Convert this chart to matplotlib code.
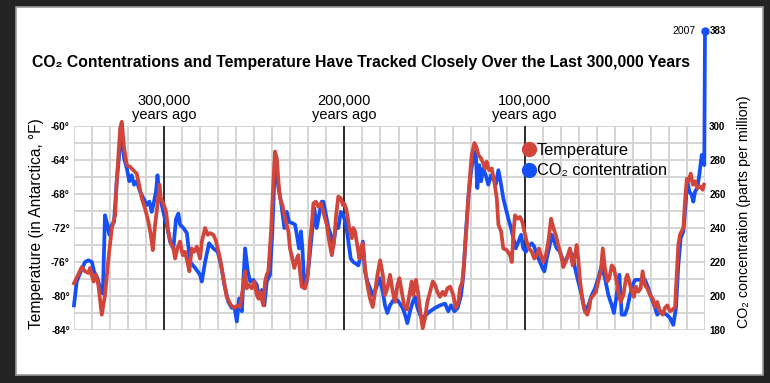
import matplotlib
matplotlib.use("Agg")
import matplotlib.pyplot as plt
import matplotlib.transforms as mtransforms
from matplotlib import font_manager
from matplotlib.lines import Line2D
from matplotlib.patches import Rectangle
from matplotlib.ticker import MultipleLocator

# thousands of years ago / degrees F (Antarctic temperature, red)
TEMP_KYR = [
    350.0, 345.7, 343.9, 342.0, 341.1, 339.2, 337.8, 336.5, 334.6, 332.8, 330.9, 329.0, 327.2, 326.3,
    324.4, 323.5, 322.2, 320.7, 318.9, 317.1, 315.2, 314.3, 312.4, 310.6, 308.7, 307.4, 306.3, 305.0,
    303.7, 302.6, 301.9, 300.4, 298.9, 297.7, 296.3, 294.9, 293.9, 292.7, 291.2, 289.7, 288.4, 287.1,
    286.0, 284.7, 283.4, 281.9, 280.1, 279.1, 277.3, 275.8, 274.5, 272.7, 271.4, 270.3, 269.0, 267.1,
    265.3, 262.9, 261.0, 259.2, 257.9, 256.6, 255.1, 254.2, 252.9, 251.4, 250.0, 248.6, 247.7, 246.8,
    245.0, 244.0, 243.1, 242.2, 240.7, 239.4, 238.5, 237.5, 236.6, 235.7, 234.4, 232.9, 231.1, 230.2,
    228.9, 227.8, 226.4, 225.6, 224.6, 223.7, 221.8, 220.3, 219.1, 218.1, 217.2, 215.9, 214.5, 213.0,
    211.7, 209.8, 208.4, 207.0, 205.8, 204.6, 203.4, 202.0, 200.9, 200.2, 199.1, 198.4, 197.3, 195.9,
    195.1, 194.1, 193.2, 191.7, 190.9, 189.8, 188.6, 187.3, 185.8, 184.3, 183.0, 181.7, 180.2, 178.7,
    177.5, 176.2, 174.7, 173.2, 171.9, 170.6, 169.5, 168.2, 166.9, 165.4, 164.0, 162.7, 161.8, 160.3,
    159.0, 157.7, 156.6, 155.3, 154.0, 152.5, 151.0, 149.7, 148.5, 147.0, 145.5, 144.2, 142.9, 141.4,
    139.6, 138.3, 136.8, 135.9, 134.6, 133.5, 132.2, 130.9, 129.4, 127.9, 126.6, 125.7, 124.2, 123.0,
    122.0, 121.1, 119.8, 118.3, 116.9, 115.5, 114.6, 113.1, 111.9, 110.0, 108.1, 107.2, 106.3, 105.4,
    103.9, 102.6, 101.3, 100.2, 98.9, 97.6, 96.1, 94.7, 93.3, 92.1, 91.0, 89.7, 88.3, 86.9,
    85.4, 84.1, 82.8, 81.4, 79.9, 78.6, 77.3, 76.1, 74.9, 73.4, 72.1, 71.2, 70.3, 69.3,
    67.8, 66.6, 65.3, 64.2, 63.4, 61.9, 60.5, 59.2, 57.8, 56.7, 55.5, 54.2, 53.1, 51.7,
    50.5, 49.4, 48.1, 46.8, 45.3, 43.8, 43.1, 42.0, 40.7, 39.4, 38.3, 37.0, 35.7, 34.6,
    33.3, 32.0, 30.5, 29.0, 27.7, 26.5, 25.0, 23.5, 22.2, 20.9, 19.4, 17.9, 16.6, 15.7,
    14.8, 13.9, 12.0, 11.1, 10.1, 9.3, 7.9, 6.8, 5.5, 4.3, 2.8, 1.3, 0.6,
]
TEMP_F = [
    -78.5, -76.6, -77.1, -77.3, -76.7, -78.3, -77.5, -78.7, -82.2, -79.9, -75.6, -72.0, -70.5, -66.5,
    -60.3, -59.5, -62.6, -64.6, -64.8, -65.2, -65.6, -66.5, -68.5, -69.7, -71.3, -72.8, -74.6, -71.6,
    -69.3, -66.9, -68.5, -69.1, -70.1, -72.4, -73.8, -74.4, -75.6, -74.4, -73.6, -75.2, -74.8, -76.0,
    -77.1, -74.4, -74.8, -74.2, -75.6, -73.6, -72.0, -72.8, -72.6, -72.8, -73.4, -74.4, -75.6, -77.9,
    -80.1, -81.1, -81.4, -81.1, -81.3, -79.5, -77.1, -79.1, -78.7, -79.1, -78.3, -79.9, -80.3, -79.5,
    -81.1, -78.3, -77.5, -77.1, -72.4, -66.5, -63.0, -63.8, -66.5, -68.5, -69.3, -70.9, -72.4, -74.4,
    -75.6, -76.7, -75.6, -75.2, -77.1, -78.9, -79.1, -77.5, -73.6, -71.6, -69.1, -68.9, -69.5, -69.1,
    -70.1, -71.6, -73.6, -75.2, -73.6, -70.5, -68.3, -68.5, -69.3, -69.1, -69.7, -70.5, -72.0, -73.2,
    -72.0, -72.4, -73.6, -75.6, -74.4, -73.8, -76.7, -78.7, -80.3, -81.3, -79.5, -77.5, -75.8, -77.5,
    -79.9, -79.1, -77.5, -79.5, -80.7, -78.7, -77.9, -79.5, -81.1, -81.6, -79.9, -78.3, -79.9, -78.1,
    -79.9, -82.2, -83.8, -82.6, -80.7, -79.5, -78.3, -78.7, -79.5, -80.1, -79.5, -79.9, -79.1, -78.9,
    -79.9, -81.4, -80.7, -79.1, -78.3, -75.6, -71.6, -67.3, -63.4, -62.0, -62.6, -63.4, -63.8, -64.4,
    -65.0, -64.2, -65.2, -65.0, -66.5, -68.5, -71.6, -72.4, -74.4, -74.6, -75.2, -76.0, -72.8, -70.5,
    -70.9, -70.7, -71.3, -72.4, -73.6, -74.4, -74.8, -75.6, -75.2, -74.4, -75.2, -76.0, -75.2, -73.6,
    -70.9, -72.0, -72.8, -74.0, -75.2, -76.6, -76.0, -75.2, -74.4, -76.4, -75.2, -74.0, -75.6, -78.3,
    -80.7, -81.8, -82.2, -81.4, -80.3, -79.9, -79.5, -78.3, -77.1, -74.4, -76.7, -78.3, -77.9, -76.4,
    -76.7, -77.9, -79.5, -80.7, -79.9, -77.9, -77.5, -78.3, -79.5, -80.1, -78.9, -79.5, -79.1, -77.1,
    -78.7, -79.1, -79.9, -80.3, -81.3, -80.7, -81.8, -82.2, -81.4, -81.1, -81.8, -81.6, -81.3, -77.5,
    -74.0, -72.8, -72.0, -68.9, -66.2, -66.5, -65.6, -66.9, -66.5, -67.3, -67.1, -67.5, -66.9,
]

# thousands of years ago / ppm (CO2, blue)
CO2_KYR = [
    350.0, 348.5, 346.6, 343.9, 342.0, 340.1, 338.9, 337.0, 335.5, 334.0, 332.8, 331.5, 330.4, 329.0,
    327.8, 326.3, 324.4, 323.5, 322.2, 320.7, 319.3, 318.0, 316.7, 315.2, 313.4, 311.5, 309.6, 308.2,
    306.9, 306.0, 304.5, 303.7, 302.6, 301.3, 300.0, 298.2, 296.7, 294.9, 293.4, 292.1, 291.2, 289.3,
    287.4, 285.6, 282.8, 280.1, 279.1, 277.3, 275.1, 272.7, 270.3, 268.4, 266.6, 264.4, 262.5, 261.0,
    259.7, 258.4, 256.9, 256.1, 255.1, 253.6, 252.3, 250.5, 248.6, 247.4, 245.9, 244.4, 243.1, 241.3,
    240.0, 238.9, 237.9, 236.6, 235.2, 233.3, 232.0, 230.7, 229.2, 227.4, 226.4, 225.2, 224.1, 223.3,
    222.2, 220.9, 219.6, 218.1, 216.7, 215.4, 214.1, 212.6, 211.7, 210.2, 208.9, 207.6, 206.1, 204.6,
    203.4, 202.0, 200.6, 199.1, 197.8, 196.5, 195.1, 193.6, 192.3, 190.9, 189.8, 188.6, 187.3, 185.8,
    184.3, 182.5, 180.6, 178.7, 177.5, 176.2, 174.7, 172.9, 170.6, 169.2, 167.7, 166.4, 165.1, 163.6,
    162.1, 160.8, 159.6, 158.1, 156.6, 154.7, 152.5, 149.7, 147.0, 144.2, 142.4, 140.9, 139.0, 137.2,
    135.3, 134.0, 132.7, 131.3, 129.8, 128.5, 127.2, 126.3, 125.2, 124.2, 123.0, 121.6, 120.2, 118.7,
    117.4, 116.1, 114.6, 113.1, 111.9, 110.5, 109.1, 107.6, 106.3, 105.0, 103.5, 102.0, 100.8, 99.4,
    98.0, 96.1, 94.7, 93.3, 91.5, 90.2, 89.1, 87.8, 86.5, 85.0, 83.6, 82.2, 80.4, 78.6,
    76.7, 74.9, 73.4, 72.1, 70.3, 68.4, 66.6, 64.7, 62.8, 61.0, 59.2, 57.3, 55.5, 53.6,
    51.7, 50.5, 49.0, 47.5, 46.2, 44.4, 43.1, 41.6, 40.1, 38.8, 33.3, 31.4, 29.6, 27.7,
    26.5, 25.0, 23.1, 21.2, 19.4, 17.6, 16.1, 14.8, 13.5, 12.0, 10.5, 9.8, 8.7, 7.4,
    6.5, 5.5, 4.3, 3.2, 1.8, 0.9, 0.4,
]
CO2_PPM = [
    194.5, 208.5, 213.5, 220.0, 221.0, 220.0, 214.5, 210.5, 204.5, 201.5, 247.5, 242.0, 236.0, 242.0,
    243.5, 267.5, 289.0, 294.5, 281.0, 275.0, 267.5, 271.0, 265.5, 267.5, 261.5, 257.5, 253.5, 255.5,
    249.5, 253.5, 261.5, 271.0, 259.5, 253.5, 247.5, 240.0, 232.0, 228.0, 245.5, 248.5, 242.0, 240.0,
    237.0, 220.0, 216.5, 212.5, 208.5, 220.0, 231.0, 228.0, 226.0, 218.0, 206.5, 196.5, 193.0, 193.5,
    185.0, 198.5, 191.0, 208.5, 228.0, 214.5, 208.5, 209.5, 206.5, 198.5, 203.5, 194.5, 208.5, 212.5,
    238.0, 267.5, 277.0, 263.5, 255.5, 240.0, 249.5, 243.5, 243.0, 242.0, 236.0, 228.0, 238.0, 228.0,
    204.5, 208.5, 220.0, 236.0, 251.5, 240.0, 247.5, 255.5, 255.5, 247.5, 240.0, 236.0, 230.0, 242.0,
    240.0, 249.5, 247.5, 242.0, 232.0, 222.0, 220.0, 219.0, 218.0, 224.0, 232.0, 214.5, 208.5, 204.5,
    200.5, 204.5, 210.5, 202.5, 194.5, 190.0, 194.5, 197.5, 197.5, 195.5, 193.0, 189.0, 184.0, 191.0,
    196.5, 199.5, 193.5, 189.0, 187.0, 189.0, 191.0, 193.0, 194.5, 195.5, 191.0, 194.5, 191.0, 193.0,
    200.5, 212.5, 236.0, 257.5, 273.0, 282.0, 285.0, 263.5, 277.0, 267.5, 275.0, 271.0, 265.5, 271.0,
    269.0, 265.5, 274.0, 265.5, 257.5, 251.5, 245.5, 240.0, 234.0, 228.0, 232.0, 236.0, 228.0, 226.0,
    229.0, 231.0, 229.0, 224.0, 220.0, 216.5, 214.5, 222.0, 228.0, 236.0, 232.0, 228.0, 226.0, 220.0,
    222.0, 226.0, 224.0, 216.5, 208.5, 200.5, 191.0, 194.5, 200.5, 204.5, 210.5, 218.0, 210.5, 200.5,
    194.5, 190.0, 200.5, 212.5, 189.0, 189.0, 193.0, 200.5, 206.5, 209.5, 209.5, 204.5, 198.5, 193.0,
    189.0, 191.0, 190.0, 189.0, 187.0, 183.0, 193.0, 218.0, 234.0, 238.0, 257.5, 267.5, 261.5, 259.5,
    255.5, 261.5, 263.5, 271.0, 283.0, 281.0, 277.0,
]

# 2007 reading; the original artwork squashes this spike, drawing it at ~356 on the scale
CO2_2007 = 383
CO2_2007_DRAWN = 356

MARKER_KYR = [300, 200, 100]
MARKER_LABELS = ["300,000\nyears ago", "200,000\nyears ago", "100,000\nyears ago"]

TEMP_TICKS = [-84, -80, -76, -72, -68, -64, -60]
CO2_TICKS = [180, 200, 220, 240, 260, 280, 300]

RED = "#d1453b"
BLUE = "#1450f5"
GRID = "#d4d4d4"

W, H = 770, 383

available = {f.name for f in font_manager.fontManager.ttflist}
NARROW = "Liberation Sans Narrow" if "Liberation Sans Narrow" in available else "Liberation Sans"
SANS = ["Liberation Sans", "DejaVu Sans"]


def fx(x: float) -> float:
    return x / W


def fy(y: float) -> float:
    return 1 - y / H


def main() -> None:
    plt.rcParams.update({"font.family": SANS, "font.size": 10})

    fig = plt.figure(figsize=(W / 100, H / 100), dpi=100, facecolor="#242424")
    panel = Rectangle((fx(16), fy(375)), fx(747), (375 - 7) / H, transform=fig.transFigure,
                      facecolor="white", edgecolor="#9a9a9a", linewidth=1.2, zorder=-10)
    fig.patches.append(panel)

    ax = fig.add_axes([fx(74), fy(330), fx(631), 204 / H])
    ax.set_zorder(1)
    ax.patch.set_visible(False)
    for spine in ax.spines.values():
        spine.set_visible(False)

    ax.set_xlim(350, 0)
    ax.set_ylim(-84, -60)
    ax.xaxis.set_major_locator(MultipleLocator(10))
    ax.yaxis.set_minor_locator(MultipleLocator(2))
    ax.set_yticks(TEMP_TICKS)
    ax.set_yticklabels([f"{t}°" for t in TEMP_TICKS], family=NARROW, fontweight="bold", fontsize=7.3)
    ax.set_xticklabels([])
    ax.tick_params(axis="both", which="both", length=0)
    ax.tick_params(axis="y", pad=3)
    ax.grid(which="both", color=GRID, linewidth=1.4)
    ax.set_axisbelow(True)

    for kyr in MARKER_KYR:
        ax.axvline(kyr, color="black", linewidth=1.1, zorder=2)

    ax2 = ax.twinx()
    ax2.set_zorder(2)
    ax2.patch.set_visible(False)
    for spine in ax2.spines.values():
        spine.set_visible(False)
    ax2.set_ylim(180, 300)
    ax2.set_yticks(CO2_TICKS)
    ax2.set_yticklabels([str(c) for c in CO2_TICKS], family=NARROW, fontweight="bold", fontsize=7)
    ax2.tick_params(axis="y", length=0, pad=3)

    co2_x = CO2_KYR + [0.0]
    co2_y = CO2_PPM + [CO2_2007_DRAWN]
    ax2.plot(co2_x, co2_y, color=BLUE, linewidth=2.7, clip_on=False, zorder=3,
             solid_joinstyle="round")
    ax2.plot([0.0], [CO2_2007_DRAWN], "o", color=BLUE, markersize=5, clip_on=False, zorder=4)
    ax2.plot(TEMP_KYR, [300 + (t + 60) * 5 for t in TEMP_F], color=RED, linewidth=2.7,
             clip_on=False, zorder=5, solid_joinstyle="round")

    ax2.annotate("2007", (0.0, CO2_2007_DRAWN), xytext=(-7, 0), textcoords="offset points",
                 ha="right", va="center", fontsize=7.5, annotation_clip=False)
    ax2.annotate(str(CO2_2007), (0.0, CO2_2007_DRAWN), xytext=(3.5, 0), textcoords="offset points",
                 ha="left", va="center", fontsize=7, family=NARROW, fontweight="bold",
                 annotation_clip=False)

    blend = mtransforms.blended_transform_factory(ax.transData, fig.transFigure)
    for kyr, label in zip(MARKER_KYR, MARKER_LABELS, strict=True):
        ax.text(kyr, fy(108), label, transform=blend, ha="center", va="center",
                fontsize=10.5, linespacing=1.05)

    handles = [
        Line2D([], [], marker="o", linestyle="none", color=RED, markersize=10, label="Temperature"),
        Line2D([], [], marker="o", linestyle="none", color=BLUE, markersize=10, label="CO₂ contentration"),
    ]
    ax2.legend(handles=handles, loc="upper left", bbox_to_anchor=(fx(522), fy(143)),
               bbox_transform=fig.transFigure, frameon=False, fontsize=11.8, handlelength=0.8,
               handletextpad=0.1, labelspacing=0.32, borderpad=0, borderaxespad=0)

    fig.text(fx(361), fy(62),
             "CO₂ Contentrations and Temperature Have Tracked Closely Over the Last 300,000 Years",
             ha="center", va="center", fontsize=11.3, fontweight="bold", family=[NARROW, "DejaVu Sans"])
    fig.text(fx(37), fy(224), "Temperature (in Antarctica, °F)", rotation=90,
             ha="center", va="center", fontsize=11.2)
    fig.text(fx(744), fy(212), "CO₂ concentration (parts per million)", rotation=90,
             ha="center", va="center", fontsize=10.3)

    fig.savefig("out.png", dpi=100, facecolor=fig.get_facecolor())
    plt.close(fig)


if __name__ == "__main__":
    main()
